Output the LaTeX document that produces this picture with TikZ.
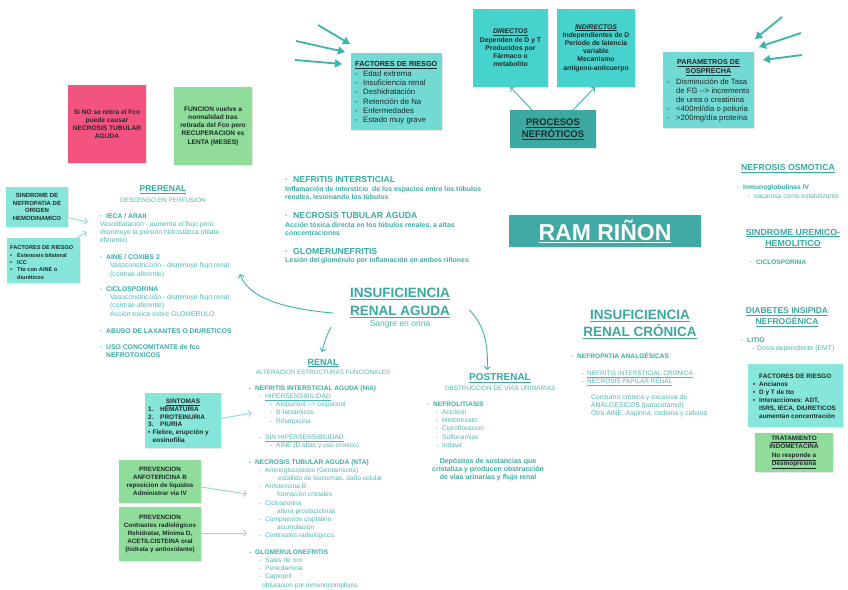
\documentclass[tikz,border=0pt]{standalone}
\usepackage{fontspec}
\setmainfont{Liberation Sans}
\usetikzlibrary{arrows.meta,shadows}
\definecolor{tealH}{HTML}{3AA8A2}
\definecolor{tealB}{HTML}{3AACA6}
\definecolor{tealT}{HTML}{4DB8B2}
\definecolor{cyanBox}{HTML}{47D3CD}
\definecolor{lcyanBox}{HTML}{72D9D3}
\definecolor{aquaBox}{HTML}{86E6D9}
\definecolor{procBox}{HTML}{3CA8A1}
\definecolor{ramBox}{HTML}{41A9A6}
\definecolor{pinkBox}{HTML}{F2547F}
\definecolor{greenBox}{HTML}{8FDC9B}
\definecolor{darkT}{HTML}{1F2B2B}
\definecolor{arrT}{HTML}{3BB4AD}
\definecolor{arrA}{HTML}{8FE2D9}
\definecolor{arrG}{HTML}{9CE0A5}
\newcommand\fsz[2]{\fontsize{#1}{#2}\selectfont}
\newcommand\lbx[2]{\makebox[#1][l]{#2}}
\begin{document}
\begin{tikzpicture}[x=1pt,y=-1pt,
  stk/.style={inner sep=0pt, drop shadow={opacity=0.18,shadow xshift=0.7pt,shadow yshift=-1pt}},
  txt/.style={inner sep=0pt, anchor=base west, align=left},
  ctr/.style={inner sep=0pt, align=center},
  bigA/.style={draw=arrT, line width=1.8pt, -{Triangle[length=7pt,width=8pt]}},
  thinA/.style={draw=arrT, line width=0.9pt, -{Straight Barb[length=3pt,width=6pt]}},
  aquaA/.style={draw=arrA, line width=1pt, -{Straight Barb[length=3pt,width=6pt]}},
  greenA/.style={draw=arrG, line width=1pt, -{Straight Barb[length=3pt,width=6pt]}}]
\useasboundingbox (0,0) rectangle (848,589);
\fill[white] (0,0) rectangle (848,589);

% NOTE: txt nodes are anchored at the baseline of their LAST line

% ---------- top sticky notes ----------
\node[stk, fill=pinkBox, minimum width=78pt, minimum height=78pt, align=center, text=darkT, font=\bfseries\fsz{6.6}{8}] (pink) at (107,124) {Si NO se retira el Fco\\puede causar\\NECROSIS TUBULAR\\AGUDA};
\node[stk, fill=greenBox, minimum width=78pt, minimum height=78pt, align=center, text=darkT, font=\bfseries\fsz{6.6}{8.2}] (green1) at (213,126) {FUNCION vuelve a\\normalidad tras\\retirada del Fco pero\\RECUPERACION es\\LENTA (MESES)};

% factores de riesgo (top)
\node[stk, fill=lcyanBox, minimum width=91pt, minimum height=77pt] (frbox) at (396.5,91.5) {};
\node[txt, text=darkT, font=\fsz{7.8}{9.3}] (frtxt) at (355,122.7) {\textbf{\fsz{7.3}{9.3}\underline{FACTORES DE RIESGO}}\\\lbx{8pt}{-}Edad extrema\\\lbx{8pt}{-}Insuficiencia renal\\\lbx{8pt}{-}Deshidratación\\\lbx{8pt}{-}Retención de Na\\\lbx{8pt}{-}Enfermedades\\\lbx{8pt}{-}Estado muy grave};
\coordinate (fa1) at (318,25); \coordinate (fa1e) at (350,44);
\coordinate (fa2) at (296,41); \coordinate (fa2e) at (345,52);
\coordinate (fa3) at (295,60); \coordinate (fa3e) at (342,64);
\draw[bigA] (fa1) -- (fa1e);
\draw[bigA] (fa2) -- (fa2e);
\draw[bigA] (fa3) -- (fa3e);

% directos / indirectos / procesos
\node[stk, fill=cyanBox, minimum width=75pt, minimum height=78pt, align=center, text=darkT, font=\bfseries\fsz{6.8}{8.2}] (dir) at (510.5,48) {\textit{\underline{DIRECTOS}}\\Dependen de D y T\\Producidos por\\Fármaco o\\metabolito};
\node[stk, fill=cyanBox, minimum width=78pt, minimum height=78pt, align=center, text=darkT, font=\bfseries\fsz{6.8}{8.2}] (ind) at (596,48) {\textit{\underline{INDIRECTOS}}\\Independientes de D\\Periodo de latencia\\variable\\Mecanismo\\antígeno-anticuerpo};
\node[stk, fill=procBox, minimum width=86pt, minimum height=38pt, align=center, text=darkT, font=\bfseries\fsz{9.5}{12}] (proc) at (553,129) {\underline{PROCESOS}\\\underline{NEFRÓTICOS}};
\draw[thinA] ([xshift=22pt]proc.north west) -- (dir.south);
\draw[thinA] ([xshift=-23pt]proc.north east) -- ([xshift=-1pt]ind.south);

% parametros de sospecha
\node[stk, fill=lcyanBox, minimum width=91pt, minimum height=76pt] (parbox) at (708.5,90) {};
\node[ctr, text=darkT, font=\bfseries\fsz{7.2}{9}] (parh) at (708.5,67.5) {\underline{PARAMETROS DE}\\\underline{SOSPRECHA}};
\node[txt, text=darkT, font=\fsz{7.7}{9}] (parl) at (667,120.7) {\lbx{9pt}{-}Disminución de Tasa\\\hspace*{9pt}de FG -{}-{}> incremento\\\hspace*{9pt}de urea o creatinina\\\lbx{9pt}{-}<400ml/día o poliuria\\\lbx{9pt}{-}>200mg/día proteína};
\coordinate (pa1) at (782,17); \coordinate (pa1e) at (755,39);
\coordinate (pa2) at (801,33); \coordinate (pa2e) at (759,47);
\coordinate (pa3) at (802,55); \coordinate (pa3e) at (763,60);
\draw[bigA] (pa1) -- (pa1e);
\draw[bigA] (pa2) -- (pa2e);
\draw[bigA] (pa3) -- (pa3e);

% ---------- left boxes ----------
\node[stk, fill=aquaBox, minimum width=62pt, minimum height=40pt, align=center, text=darkT, font=\bfseries\fsz{6}{7.8}] (snd) at (37,207) {SINDROME DE\\NEFROPATIA DE\\ORIGEN\\HEMODINAMICO};
\node[stk, fill=aquaBox, minimum width=73pt, minimum height=45pt] (frl) at (43.5,260.5) {};
\node[txt, text=darkT, font=\bfseries\fsz{5.6}{7.3}] (frltxt) at (10,279) {FACTORES DE RIESGO\\\lbx{7pt}{•}Estenosis bilateral\\\lbx{7pt}{•}ICC\\\lbx{7pt}{•}Tto con AINE o\\\hspace*{7pt}diuréticos};
\coordinate (prerL1) at (88,222);
\coordinate (prerL2) at (87,232);
\draw[aquaA] ([xshift=1pt,yshift=-11pt]snd.east) -- (prerL1);
\draw[aquaA] ([xshift=-3pt]frl.north east) -- (prerL2);

% ---------- PRERENAL ----------
\node[ctr, text=tealH, font=\bfseries\fsz{8.5}{10}] (prer) at (163,190) {\underline{PRERENAL}};
\node[ctr, text=tealT, font=\fsz{6.4}{8}] (prersub) at (163,200) {DESCENSO EN PERFUSION};
\node[txt, text=tealB, font=\bfseries\fsz{6.8}{8}] (iecaH) at (100,218.4) {\lbx{6pt}{·}IECA / ARAII};
\node[txt, text=tealT, font=\fsz{6.8}{8}] (iecaT) at (100,242.4) {Vasodilatación - aumenta el flujo pero\\disminuye la presión hidrostática (dilata\\eferente)};
\node[txt, text=tealB, font=\bfseries\fsz{6.8}{8}] (aineH) at (100,259.4) {\lbx{6pt}{·}AINE / COXIBS 2};
\node[txt, text=tealT, font=\fsz{6.8}{8.5}] (aineT) at (110,276.2) {Vasoconstricción - disminuye flujo renal\\(contrae aferente)};
\node[txt, text=tealB, font=\bfseries\fsz{6.8}{8}] (cicH) at (100,291.4) {\lbx{6pt}{·}CICLOSPORINA};
\node[txt, text=tealT, font=\fsz{6.8}{8.5}] (cicT) at (110,316.4) {Vasoconstricción - disminuye flujo renal\\(contrae aferente)\\Acción toxica sobre GLOMERULO};
\node[txt, text=tealB, font=\bfseries\fsz{6.8}{8}] (abuso) at (100,333.4) {\lbx{6pt}{·}ABUSO DE LAXANTES O DIURETICOS};
\node[txt, text=tealB, font=\bfseries\fsz{6.8}{8}] (uso) at (100,357.4) {\lbx{6pt}{·}USO CONCOMITANTE de fco\\\hspace*{6pt}NEFROTOXICOS};

% ---------- middle text ----------
\node[txt, text=tealB, font=\bfseries\fsz{8.7}{10}] (nih) at (285,182) {\lbx{8pt}{·}NEFRITIS INTERSTICIAL};
\node[txt, text=tealB, font=\bfseries\fsz{6.9}{8}] (nit) at (285,199.4) {Inflamación de intersticio \ de los espacios entre los túbulos\\renales, lesionando los túbulos};
\node[txt, text=tealB, font=\bfseries\fsz{8.7}{10}] (ntah) at (285,218) {\lbx{8pt}{·}NECROSIS TUBULAR AGUDA};
\node[txt, text=tealB, font=\bfseries\fsz{6.9}{8}] (ntat) at (285,235.4) {Acción tóxica directa en los túbulos renales, a altas\\concentraciones};
\node[txt, text=tealB, font=\bfseries\fsz{8.7}{10}] (glh) at (285,254) {\lbx{8pt}{·}GLOMERUNEFRITIS};
\node[txt, text=tealB, font=\bfseries\fsz{6.9}{8}] (glt) at (285,262.5) {Lesión del glomérulo por inflamación en ambos riñones};

% ---------- IRA ----------
\node[ctr, text=tealH, font=\bfseries\fsz{13.5}{17.5}] (ira) at (400,303) {\underline{INSUFICIENCIA}\\\underline{RENAL AGUDA}};
\node[ctr, text=tealT, font=\fsz{8.5}{10}] (sangre) at (400,324) {Sangre en orina};
\coordinate (iraL) at (333,313); \coordinate (prerA) at (240,274);
\draw[thinA] (iraL) .. controls (285,309) and (248,298) .. (prerA);
\coordinate (iraD) at (331,327); \coordinate (renA) at (322,352);
\draw[thinA] (iraD) .. controls (326,337) .. (renA);
\coordinate (iraR) at (469,310); \coordinate (postA) at (487,370);
\draw[thinA] (iraR) .. controls (483,322) and (489,345) .. (postA);

% ---------- RENAL ----------
\node[ctr, text=tealH, font=\bfseries\fsz{9}{10}] (renal) at (323,363) {\underline{RENAL}};
\node[ctr, text=tealT, font=\fsz{6.25}{8}] (renalsub) at (323,372) {ALTERACION ESTRUCTURAS FUNCIONALES};
\node[txt, text=tealT, font=\fsz{6.6}{8.2}] (renall) at (249,587.1) {\textcolor{tealB}{\textbf{\lbx{6pt}{-}NEFRITIS INTERSTICIAL AGUDA (NIA)}}\\
\hspace*{10pt}\lbx{6pt}{-}\underline{HIPERSENSIBILIDAD}\\
\hspace*{21pt}\lbx{6pt}{-}Alopurinol -{}-{}> oxipurinol\\
\hspace*{21pt}\lbx{6pt}{-}B-lactamicos\\
\hspace*{21pt}\lbx{6pt}{-}Rifampicina\\[8.2pt]
\hspace*{10pt}\lbx{6pt}{-}\underline{SIN HIPERSENSIBILIDAD}\\
\hspace*{21pt}\lbx{6pt}{-}AINE (D altas y uso cronico)\\[8.2pt]
\textcolor{tealB}{\textbf{\lbx{6pt}{-}NECROSIS TUBULAR AGUDA (NTA)}}\\
\hspace*{10pt}\lbx{6pt}{-}Aminoglucosidos (Gentamicina)\\
\hspace*{29pt}estallido de lisosomas, daño celular\\
\hspace*{10pt}\lbx{6pt}{-}Anfotericina B\\
\hspace*{28pt}formación cristales\\
\hspace*{10pt}\lbx{6pt}{-}Ciclosporina\\
\hspace*{28pt}altera prostaciclinas\\
\hspace*{10pt}\lbx{6pt}{-}Compuestos cisplatino\\
\hspace*{28pt}acumulación\\
\hspace*{10pt}\lbx{6pt}{-}Contrastes radiológicos\\[8.2pt]
\textcolor{tealB}{\textbf{\lbx{6pt}{-}GLOMERULONEFRITIS}}\\
\hspace*{10pt}\lbx{6pt}{-}Sales de oro\\
\hspace*{10pt}\lbx{6pt}{-}Penicilamina\\
\hspace*{10pt}\lbx{6pt}{-}Captopril\\
\hspace*{13pt}obturacion por inmunocomplejos};

% ---------- POSTRENAL ----------
\node[ctr, text=tealH, font=\bfseries\fsz{10}{12}] (post) at (500,378) {\underline{POSTRENAL}};
\node[ctr, text=tealT, font=\fsz{6.4}{8}] (postsub) at (500,388) {OBSTRUCCION DE VIAS URINARIAS};
\node[txt, text=tealT, font=\fsz{6.6}{8.2}] (nefl) at (427,447.3) {\textcolor{tealB}{\textbf{\lbx{6pt}{·}NEFROLITIASIS}}\\\hspace*{9pt}\lbx{6pt}{-}Aciclovir\\\hspace*{9pt}\lbx{6pt}{-}Metotrexato\\\hspace*{9pt}\lbx{6pt}{-}Ciprofloxacion\\\hspace*{9pt}\lbx{6pt}{-}Sulfonamias\\\hspace*{9pt}\lbx{6pt}{-}Indavir};
\node[ctr, text=tealB, font=\bfseries\fsz{7}{8}] (depos) at (488,470) {Depósitos de sustancias que\\cristaliza y producen obstrucción\\de vías urinarias y flujo renal};

% ---------- left bottom boxes ----------
\node[stk, fill=aquaBox, minimum width=76pt, minimum height=55pt] (sint) at (183,420.5) {};
\node[ctr, text=darkT, font=\bfseries\fsz{6.5}{7.7}] (sinth) at (183,402) {\underline{SINTOMAS}};
\node[txt, text=darkT, font=\bfseries\fsz{6.5}{7.7}] (sintl) at (148,442.3) {\lbx{12pt}{1.}HEMATURIA\\\lbx{12pt}{2.}PROTEINURIA\\\lbx{12pt}{3.}PIURIA\\\lbx{4.5pt}{•}Fiebre, erupción y\\\hspace*{4.5pt}eosinofilia};
\coordinate (sintA) at (252,413);
\draw[aquaA] ([yshift=2pt]sint.east) -- (sintA);

\node[stk, fill=greenBox, minimum width=82pt, minimum height=43pt, align=center, text=darkT, font=\bfseries\fsz{6.3}{8.2}] (prevA) at (160,481.5) {PREVENCION\\ANFOTERICINA B\\reposicion de liquidos\\Administrar via IV};
\node[stk, fill=greenBox, minimum width=82pt, minimum height=54pt, align=center, text=darkT, font=\bfseries\fsz{6.3}{8.2}] (prevC) at (160,534) {PREVENCION\\Contrastes radiológicos\\Rehidratar, Minima D,\\ACETILCISTEINA oral\\(hidrata y antioxidante)};
\coordinate (prevAe) at (247,494);
\coordinate (prevCe) at (247,533);
\draw[greenA] ([yshift=-5.5pt]prevA.east) -- (prevAe);
\draw[greenA] ([yshift=1pt]prevC.east) -- (prevCe);

% ---------- right side ----------
\node[stk, fill=ramBox, minimum width=192pt, minimum height=32pt, text=white, font=\bfseries\fsz{23}{26}] (ram) at (605,231) {\underline{RAM RIÑON}};

\node[ctr, text=tealH, font=\bfseries\fsz{8.7}{10}] (nefo) at (788,169) {\underline{NEFROSIS OSMOTICA}};
\node[txt, text=tealT, font=\fsz{6.7}{9}] (nefol) at (737,198.3) {\textcolor{tealB}{\textbf{\lbx{6pt}{·}Inmunoglobulinas IV}}\\\hspace*{11pt}\lbx{6pt}{-}sacarosa como estabilizante};

\node[ctr, text=tealH, font=\bfseries\fsz{8.8}{11}] (suh) at (793,238.5) {\underline{SINDROME UREMICO-}\\\underline{HEMOLITICO}};
\node[txt, text=tealB, font=\bfseries\fsz{6.5}{8}] (suhl) at (750,264.3) {\lbx{6pt}{·}CICLOSPORINA};

\node[ctr, text=tealH, font=\bfseries\fsz{13.5}{17.5}] (irc) at (640,324.5) {\underline{INSUFICIENCIA}\\\underline{RENAL CRÓNICA}};

\node[ctr, text=tealH, font=\bfseries\fsz{8.5}{10.6}] (dbi) at (787,317) {\underline{DIABETES INSIPIDA}\\\underline{NEFROGÉNICA}};
\node[txt, text=tealT, font=\fsz{6.8}{8}] (litio) at (741,350.3) {\textcolor{tealB}{\textbf{\lbx{6pt}{·}LITIO}}\\\hspace*{11pt}\lbx{5pt}{-}Dosis dependiente (EMT)};

\node[txt, text=tealB, font=\bfseries\fsz{6.6}{8}] (nefa) at (571,358.3) {\lbx{6pt}{·}NEFROPATIA ANALGÉSICAS};
\node[txt, text=tealT, font=\fsz{6.4}{8}] (nefal) at (582,383.3) {\lbx{5pt}{-}\underline{NEFRITIS INTERSTICIAL CRONICA}\\\lbx{5pt}{-}\underline{NECROSIS PAPILAR RENAL}};
\node[txt, text=tealT, font=\fsz{6.8}{8}] (consumo) at (591,415.3) {Consumo crónica y excesiva de\\ANALGESICOS (paracetamol)\\Otro AINE, Aspirina, codeina y cafeina};

\node[stk, fill=aquaBox, minimum width=95pt, minimum height=63pt] (frr) at (795.5,395.5) {};
\node[txt, text=darkT, font=\bfseries\fsz{6.4}{8}] (frrt) at (753,418.3) {\hspace*{6pt}FACTORES DE RIESGO\\\lbx{6pt}{•}Ancianos\\\lbx{6pt}{•}D y T de tto\\\lbx{6pt}{•}Interacciones: ADT,\\\hspace*{6pt}ISRS, IECA, DIURETICOS\\\hspace*{6pt}aumentan concentración};

\node[stk, fill=greenBox, minimum width=78pt, minimum height=39pt, align=center, text=darkT, font=\bfseries\fsz{6.4}{8.3}] (trat) at (794,452.5) {\underline{TRATAMIENTO}\\INDOMETACINA\\\underline{No responde a}\\\underline{Desmopresina}};
\end{tikzpicture}
\end{document}
